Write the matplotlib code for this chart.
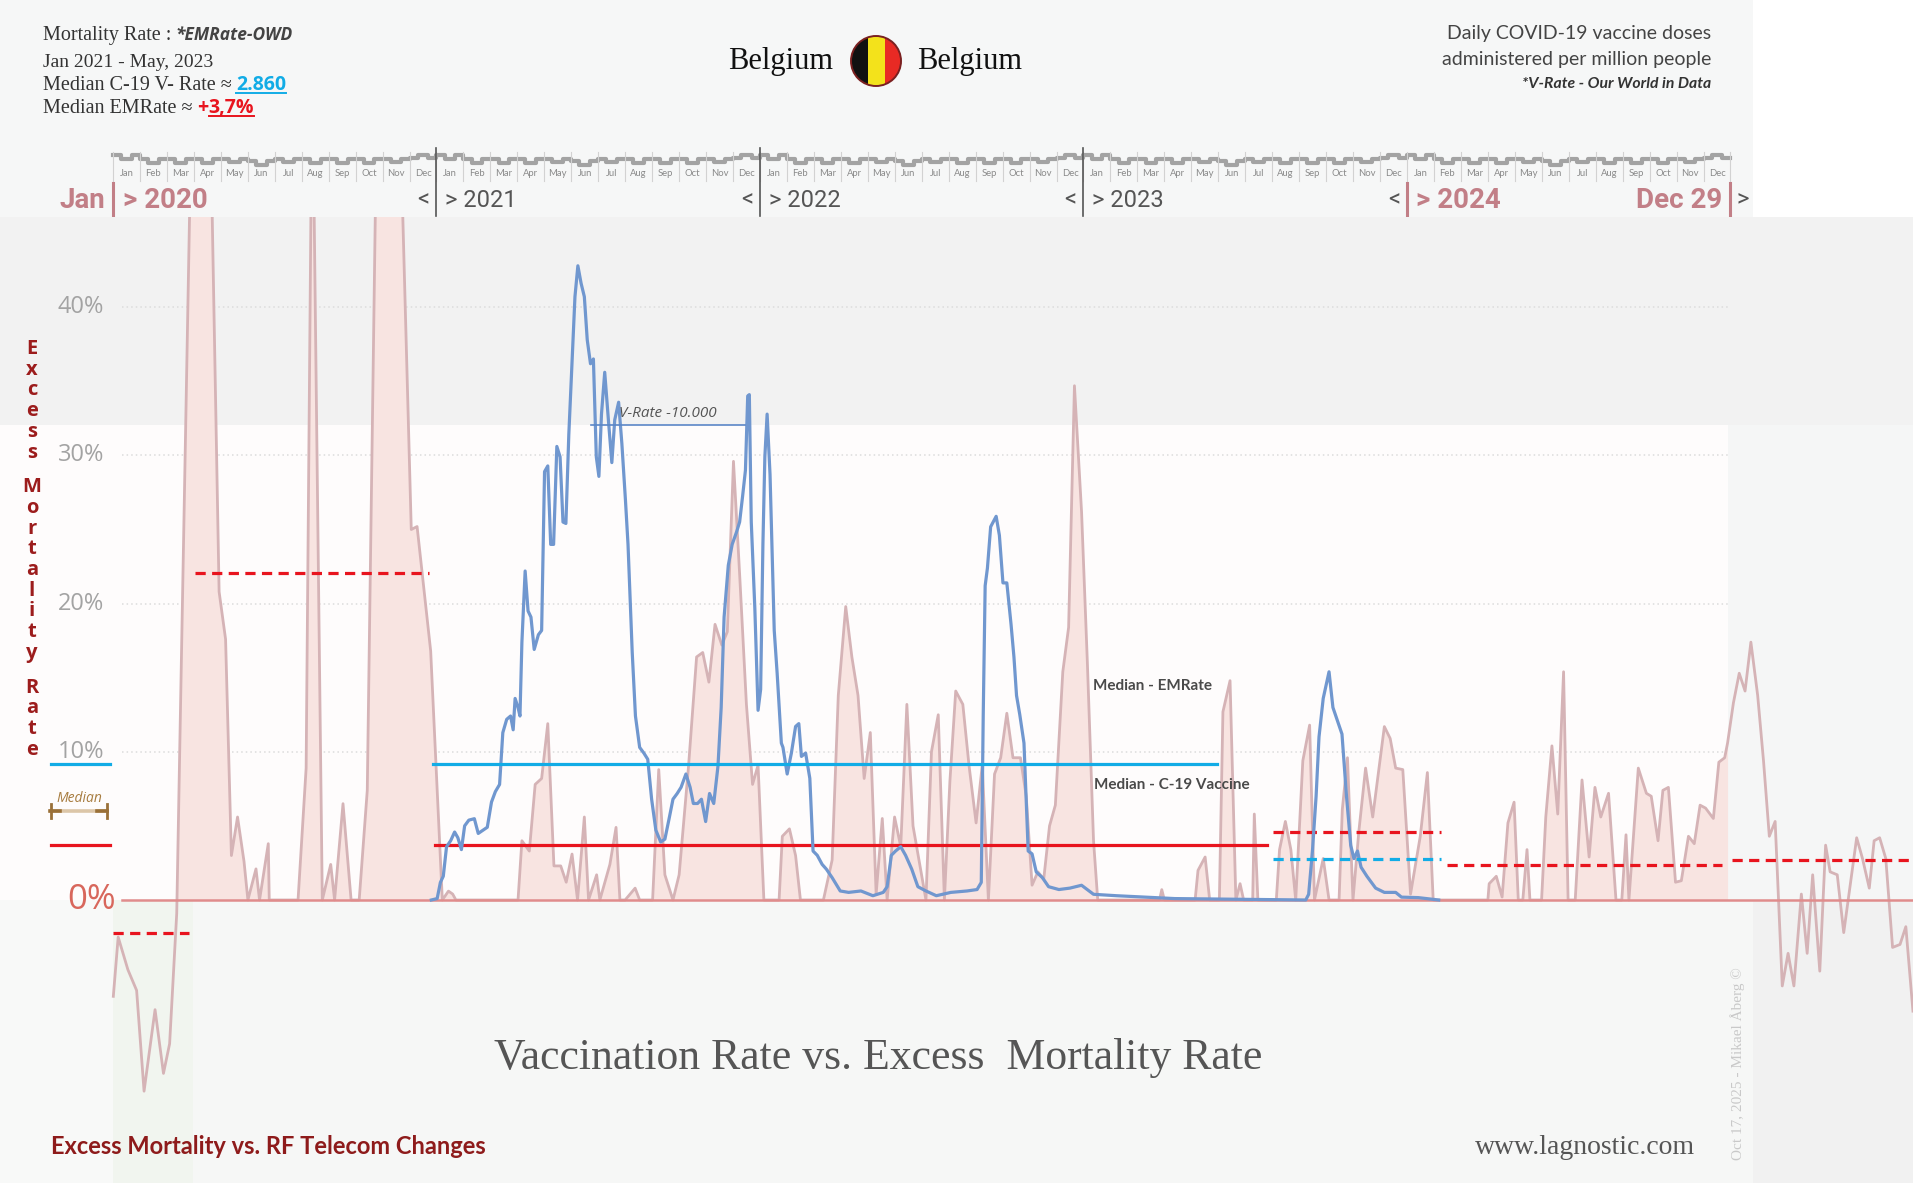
import numpy as np
import matplotlib
matplotlib.use("Agg")
import matplotlib.pyplot as plt
from matplotlib.patches import Rectangle, Circle
from matplotlib import transforms

# ---------------- data ----------------
# excess mortality rate, % vs expected (x = decimal year)
em_year = [2020.001, 2020.016, 2020.046, 2020.073, 2020.096, 2020.130, 2020.156, 2020.175,
           2020.197, 2020.255, 2020.285, 2020.328, 2020.348, 2020.366, 2020.385, 2020.405,
           2020.417, 2020.442, 2020.453, 2020.480, 2020.483, 2020.572, 2020.597, 2020.616,
           2020.647, 2020.673, 2020.685, 2020.711, 2020.736, 2020.761, 2020.786, 2020.826,
           2020.860, 2020.922, 2020.940, 2020.982, 2021.018, 2021.037, 2021.050, 2021.060,
           2021.252, 2021.264, 2021.287, 2021.305, 2021.325, 2021.344, 2021.363, 2021.384,
           2021.401, 2021.419, 2021.436, 2021.457, 2021.470, 2021.495, 2021.505, 2021.536,
           2021.555, 2021.567, 2021.583, 2021.614, 2021.628, 2021.668, 2021.687, 2021.706,
           2021.731, 2021.750, 2021.779, 2021.804, 2021.823, 2021.842, 2021.861, 2021.882,
           2021.899, 2021.918, 2021.937, 2021.958, 2021.977, 2021.994, 2022.012, 2022.059,
           2022.069, 2022.091, 2022.110, 2022.125, 2022.196, 2022.223, 2022.242, 2022.265,
           2022.284, 2022.303, 2022.322, 2022.341, 2022.359, 2022.378, 2022.393, 2022.416,
           2022.435, 2022.454, 2022.473, 2022.513, 2022.530, 2022.551, 2022.570, 2022.587,
           2022.605, 2022.627, 2022.646, 2022.668, 2022.687, 2022.706, 2022.725, 2022.744,
           2022.763, 2022.782, 2022.805, 2022.823, 2022.841, 2022.859, 2022.877, 2022.895,
           2022.913, 2022.936, 2022.954, 2022.972, 2022.994, 2023.012, 2023.031, 2023.044,
           2023.235, 2023.242, 2023.250, 2023.345, 2023.354, 2023.376, 2023.390, 2023.420,
           2023.431, 2023.453, 2023.471, 2023.484, 2023.495, 2023.523, 2023.528, 2023.539,
           2023.596, 2023.606, 2023.624, 2023.641, 2023.656, 2023.678, 2023.699, 2023.714,
           2023.741, 2023.759, 2023.790, 2023.800, 2023.816, 2023.833, 2023.851, 2023.872,
           2023.894, 2023.930, 2023.948, 2023.965, 2023.987, 2024.011, 2024.041, 2024.063,
           2024.081, 2024.250, 2024.254, 2024.276, 2024.294, 2024.312, 2024.331, 2024.344,
           2024.358, 2024.371, 2024.380, 2024.416, 2024.429, 2024.448, 2024.466, 2024.484,
           2024.498, 2024.520, 2024.541, 2024.563, 2024.581, 2024.599, 2024.623, 2024.646,
           2024.664, 2024.677, 2024.686, 2024.715, 2024.740, 2024.755, 2024.776, 2024.791,
           2024.808, 2024.830, 2024.848, 2024.870, 2024.888, 2024.906, 2024.923, 2024.947,
           2024.964, 2024.982, 2024.991, 2025.009, 2025.027, 2025.045, 2025.063, 2025.084,
           2025.102, 2025.120, 2025.138, 2025.160, 2025.178, 2025.196, 2025.219, 2025.237,
           2025.254, 2025.276, 2025.294, 2025.308, 2025.330, 2025.350, 2025.390, 2025.408,
           2025.429, 2025.444, 2025.461, 2025.480, 2025.501, 2025.524, 2025.542, 2025.564]
em_rate = [-6.5, -2.5, -4.7, -6.1, -12.9, -7.4, -11.7, -9.7,
           -0.9, 68.0, 72.0, 20.8, 17.6, 3.0, 5.6, 2.6,
           0.0, 2.1, 0.0, 3.8, 0.0, 0.0, 8.9, 57.0,
           0.0, 2.4, 0.0, 6.5, 0.0, 0.0, 7.4, 70.0,
           75.0, 25.0, 25.2, 16.8, 0.0, 0.6, 0.4, 0.0,
           0.0, 4.0, 3.3, 7.8, 8.2, 11.9, 2.3, 2.3,
           1.2, 3.1, 0.0, 5.6, 0.0, 1.7, 0.0, 2.4,
           4.9, 0.0, 0.0, 0.8, 0.0, 0.0, 8.8, 1.7,
           0.0, 1.7, 9.0, 16.4, 16.7, 14.7, 18.6, 17.2,
           18.1, 29.6, 22.0, 13.2, 7.8, 9.1, 0.0, 0.0,
           4.3, 4.8, 3.0, 0.0, 0.0, 2.7, 13.8, 19.8,
           16.4, 13.8, 8.2, 11.3, 0.4, 5.5, 0.0, 5.6,
           3.6, 13.2, 5.0, 0.0, 10.0, 12.5, 0.0, 8.0,
           14.1, 13.2, 9.1, 5.2, 9.1, 0.0, 8.5, 9.6,
           12.6, 9.6, 9.6, 7.0, 1.0, 1.9, 1.4, 5.0,
           6.4, 15.4, 18.4, 34.7, 26.2, 16.0, 4.0, 0.0,
           0.0, 0.7, 0.0, 0.0, 2.0, 2.9, 0.0, 0.0,
           12.7, 14.8, 0.0, 1.1, 0.0, 0.0, 5.8, 0.0,
           0.0, 3.4, 5.3, 3.4, 0.0, 9.4, 11.8, 0.0,
           2.8, 0.0, 0.0, 6.1, 9.6, 0.0, 4.6, 8.9,
           5.6, 11.7, 10.9, 8.9, 8.8, 0.4, 4.3, 8.6,
           0.0, 0.0, 1.1, 1.6, 0.2, 5.2, 6.6, 0.0,
           0.0, 3.4, 0.0, 0.0, 5.6, 10.4, 5.8, 15.4,
           0.0, 0.0, 8.1, 2.9, 7.6, 5.6, 7.2, 0.0,
           0.0, 4.4, 0.0, 8.9, 7.2, 7.0, 4.0, 7.4,
           7.6, 1.2, 1.3, 4.3, 3.8, 6.4, 6.2, 5.5,
           9.3, 9.6, 10.6, 13.3, 15.3, 14.1, 17.4, 13.8,
           9.4, 4.3, 5.3, -5.8, -3.6, -5.8, 0.4, -3.6,
           1.7, -4.8, 3.7, 1.9, 1.7, -2.2, 4.2, 2.8,
           0.8, 4.0, 4.2, 2.8, -3.2, -3.0, -1.8, -7.5]

# daily COVID-19 vaccine doses per million people (OWD)
vax_year = [2020.984, 2021.002, 2021.012, 2021.021, 2021.031, 2021.044, 2021.056, 2021.066,
            2021.077, 2021.087, 2021.100, 2021.117, 2021.129, 2021.144, 2021.157, 2021.170,
            2021.182, 2021.195, 2021.205, 2021.217, 2021.229, 2021.237, 2021.243, 2021.252,
            2021.258, 2021.264, 2021.274, 2021.283, 2021.292, 2021.302, 2021.315, 2021.325,
            2021.334, 2021.344, 2021.353, 2021.362, 2021.372, 2021.382, 2021.391, 2021.400,
            2021.409, 2021.418, 2021.428, 2021.437, 2021.447, 2021.457, 2021.466, 2021.476,
            2021.485, 2021.494, 2021.502, 2021.510, 2021.520, 2021.532, 2021.542, 2021.551,
            2021.563, 2021.573, 2021.584, 2021.592, 2021.605, 2021.615, 2021.628, 2021.641,
            2021.653, 2021.665, 2021.678, 2021.693, 2021.706, 2021.719, 2021.731, 2021.744,
            2021.756, 2021.771, 2021.784, 2021.794, 2021.807, 2021.819, 2021.832, 2021.844,
            2021.857, 2021.870, 2021.880, 2021.889, 2021.902, 2021.914, 2021.927, 2021.937,
            2021.946, 2021.955, 2021.962, 2021.967, 2021.973, 2021.984, 2021.994, 2022.002,
            2022.009, 2022.015, 2022.022, 2022.031, 2022.044, 2022.053, 2022.066, 2022.071,
            2022.084, 2022.097, 2022.110, 2022.120, 2022.128, 2022.141, 2022.154, 2022.164,
            2022.177, 2022.192, 2022.205, 2022.223, 2022.248, 2022.274, 2022.312, 2022.349,
            2022.381, 2022.393, 2022.406, 2022.419, 2022.435, 2022.450, 2022.469, 2022.488,
            2022.513, 2022.545, 2022.590, 2022.640, 2022.671, 2022.684, 2022.690, 2022.696,
            2022.703, 2022.713, 2022.730, 2022.740, 2022.751, 2022.763, 2022.776, 2022.785,
            2022.793, 2022.803, 2022.816, 2022.829, 2022.841, 2022.854, 2022.873, 2022.892,
            2022.924, 2022.958, 2022.994, 2023.031, 2023.102, 2023.282, 2023.687, 2023.696,
            2023.708, 2023.719, 2023.728, 2023.741, 2023.759, 2023.771, 2023.785, 2023.799,
            2023.813, 2023.826, 2023.836, 2023.847, 2023.858, 2023.876, 2023.903, 2023.930,
            2023.965, 2023.983, 2024.035, 2024.098]
vax_doses = [0, 30, 370, 500, 1120, 1250, 1430, 1310,
             1060, 1560, 1680, 1710, 1400, 1470, 1530, 2060,
             2280, 2430, 3520, 3800, 3870, 3580, 4240, 4050,
             3870, 5420, 6920, 6080, 5950, 5270, 5580, 5670,
             9010, 9130, 7480, 7480, 9540, 9320, 7950, 7920,
             9790, 11160, 12690, 13340, 12970, 12690, 11780, 11280,
             11380, 9320, 8910, 10220, 11100, 10040, 9200, 10100,
             10470, 9600, 8420, 7480, 5210, 3870, 3210, 3090,
             2960, 2120, 1470, 1220, 1280, 1710, 2120, 2240,
             2370, 2650, 2370, 2030, 2030, 2120, 1650, 2240,
             2030, 2810, 4050, 5950, 7040, 7480, 7730, 7950,
             8480, 9040, 10600, 10630, 7950, 6140, 3990, 4430,
             7480, 9320, 10220, 8950, 5670, 4770, 3300, 3210,
             2650, 3090, 3650, 3710, 3020, 3090, 2560, 1030,
             940, 750, 650, 470, 190, 160, 190, 90,
             160, 280, 940, 1030, 1120, 940, 650, 280,
             190, 90, 160, 190, 220, 370, 3870, 6610,
             6980, 7850, 8070, 7670, 6670, 6670, 5800, 5110,
             4300, 3900, 3300, 1030, 970, 590, 470, 280,
             220, 250, 310, 120, 90, 30, 0, 120,
             1060, 2180, 3430, 4240, 4800, 4050, 3770, 3490,
             2180, 1150, 870, 1030, 690, 500, 250, 160,
             160, 60, 50, 0]

# median levels per period
em_med_start = [2020.000, 2020.253, 2020.996, 2023.585, 2024.124, 2025.005]
em_med_end = [2020.234, 2020.977, 2023.566, 2024.105, 2024.974, 2025.564]
em_med_value = [-2.2, 22.06, 3.7, 4.58, 2.38, 2.68]
vax_med_start = [2020.989, 2023.585]
vax_med_end = [2023.412, 2024.105]
vax_med_value = [2860, 860]
vrate_ref = 10000
vrate_ref_span = [2021.479, 2021.955]

pct_ticks = [10, 20, 30, 40]
months = ["Jan", "Feb", "Mar", "Apr", "May", "Jun", "Jul", "Aug", "Sep", "Oct", "Nov", "Dec"]
strip_years = [2020, 2021, 2022, 2023, 2024]
# month strip outline (edge, middle) in strip pixels
strip_profile = [(155, 159), (159, 163), (159, 163), (159, 163), (159, 162), (161, 165),
                 (159, 162), (159, 163), (159, 163), (159, 163), (159, 162), (158, 155)]

# ---------------- layout ----------------
W, H = 1913, 1183
PXY = 323.5                       # pixels per year
X0 = 2020 - 113 / PXY
X1 = X0 + W / PXY
PXP = 14.82                       # pixels per percent
Y_TOP = (900 - 217) / PXP
Y_BOT = (900 - H) / PXP
VAX_PER_PCT = 10000 / 32.08       # 10.000 doses sit at 32.08 %

def yr(px):
    return X0 + px / PXY

SERIF = ["Liberation Serif", "DejaVu Serif"]
SANS = ["Lato", "DejaVu Sans"]
OPEN = ["Open Sans", "DejaVu Sans"]
ROBO = ["Roboto", "DejaVu Sans"]

RED = "#e8141e"
CYAN = "#12ace6"
BLUE = "#7097cf"
ROSE = "#c27f87"
PINK_LINE = "#d5b3b6"
PINK_FILL = "#f8e4e1"

fig = plt.figure(figsize=(W / 100, H / 100), dpi=100)
fig.patch.set_facecolor("#f6f7f7")
fig.add_artist(Rectangle((1753 / W, 1 - 217 / H), 1 - 1753 / W, 217 / H,
                         transform=fig.transFigure, fc="white", ec="none", zorder=0))

# ---- main axes ----
ax = fig.add_axes([0, 0, 1, (H - 217) / H])
ax.set_xlim(X0, X1)
ax.set_ylim(Y_BOT, Y_TOP)
ax.axis("off")

bg = [((X0, 32.08), X1 - X0, Y_TOP - 32.08, "#f2f2f2"),
      ((X0, 0), yr(1728) - X0, 32.08, "#fefcfc"),
      ((yr(1728), 0), X1 - yr(1728), 32.08, "#f5f6f6"),
      ((X0, Y_BOT), 2020 - X0, -Y_BOT, "#f8f9f8"),
      ((2020, Y_BOT), yr(193) - 2020, -Y_BOT, "#f1f5ef"),
      ((yr(193), Y_BOT), yr(1753) - yr(193), -Y_BOT, "#f6f7f6"),
      ((yr(1753), Y_BOT), X1 - yr(1753), -Y_BOT, "#f1f1f1")]
for xy, w, h, c in bg:
    ax.add_patch(Rectangle(xy, w, h, fc=c, ec="none", zorder=0))

ax.hlines(pct_ticks, yr(122), yr(1728), colors="#dcdcdc", lw=1.1,
          linestyles=(0, (1, 2)), zorder=1)
for v in pct_ticks:
    ax.text(yr(104), v, f"{v}%", ha="right", va="center", fontsize=17,
            color="#a3a3a3", family=OPEN, zorder=6)
ax.text(yr(116), 0, "0%", ha="right", va="center", fontsize=25,
        color="#d8675c", family=OPEN, zorder=6)

em_x = np.array(em_year)
em_y = np.array(em_rate)
ax.fill_between(em_x, 0, np.clip(em_y, 0, None),
                where=(em_x >= 2020.19) & (em_x <= 2024.992),
                color=PINK_FILL, lw=0, zorder=2)
ax.plot(em_x, em_y, color=PINK_LINE, lw=2.0, zorder=3, solid_joinstyle="round")
ax.plot([yr(122), X1], [0, 0], color="#e08c8c", lw=1.8, zorder=4)

for i, (s, e, v) in enumerate(zip(em_med_start, em_med_end, em_med_value)):
    ls = "-" if i == 2 else (0, (3.2, 2.0))
    ax.plot([s, e], [v, v], color=RED, lw=2.3, ls=ls, zorder=5)

# left legend
bl = transforms.blended_transform_factory(ax.transAxes, ax.transData)
ax.plot([51 / W, 110 / W], [vax_med_value[0] / VAX_PER_PCT] * 2, color=CYAN, lw=2.3,
        transform=bl, zorder=5)
ax.plot([51 / W, 110 / W], [em_med_value[2]] * 2, color=RED, lw=2.3, transform=bl, zorder=5)
ax.plot([51 / W, 107 / W], [6.0, 6.0], color="#dcc6a8", lw=2.6, transform=bl, zorder=5)
for a, b in [(50, 60), (97, 107)]:
    ax.plot([a / W, b / W], [6.0, 6.0], color="#9a7038", lw=2.6, transform=bl, zorder=6)
for a in [50.5, 107]:
    ax.plot([a / W, a / W], [5.55, 6.45], color="#9a7038", lw=2.0, transform=bl, zorder=6)
ax.text(79 / W, 6.85, "Median", transform=bl, ha="center", va="center", fontsize=10,
        style="italic", color="#a77c3f", family=OPEN)

ax.text(yr(1093), 14.47, "Median - EMRate", ha="left", va="center", fontsize=11,
        weight="bold", color="#4a4a4a", family=SANS, zorder=6)
ax.text(yr(1094), 7.76, "Median - C-19 Vaccine", ha="left", va="center", fontsize=11,
        weight="bold", color="#4a4a4a", family=SANS, zorder=6)

# vaccine series on its own scale
ax2 = ax.twinx()
ax2.set_ylim(Y_BOT * VAX_PER_PCT, Y_TOP * VAX_PER_PCT)
ax2.set_xlim(X0, X1)
ax2.axis("off")
ax2.plot(vax_year, vax_doses, color=BLUE, lw=2.3, zorder=3, solid_joinstyle="round")
for i, (s, e, v) in enumerate(zip(vax_med_start, vax_med_end, vax_med_value)):
    ls = "-" if i == 0 else (0, (3.2, 2.0))
    ax2.plot([s, e], [v, v], color=CYAN, lw=2.3, ls=ls, zorder=4)
ax2.plot(vrate_ref_span, [vrate_ref, vrate_ref], color="#5b87c7", lw=1.2, zorder=4)
ax2.text(yr(619), vrate_ref + 0.75 * VAX_PER_PCT, "V-Rate -10.000", ha="left", va="center",
         fontsize=11, style="italic", color="#555555", family=OPEN)

# ---- month strip ----
tl = fig.add_axes([0, 1 - 217 / H, 1, 217 / H])
tl.set_xlim(X0, X1)
tl.set_ylim(217, 0)
tl.axis("off")
sx, sy = [], []
for y in strip_years:
    for m in range(12):
        a = y + m / 12
        edge, mid = strip_profile[m]
        for f, lv in [(0, edge), (0.3, mid), (0.7, edge)]:
            sx.append(a + f / 12)
            sy.append(lv)
sx.append(2025)
sy.append(sy[-1])
tl.step(sx, sy, where="post", color="#a3a3a3", lw=3.0)
for y in strip_years:
    for m in range(12):
        a = y + m / 12
        tl.plot([a, a], [152, 181], color="#d2d2d2", lw=0.8)
        tl.text(a + 1 / 24, 173, months[m], ha="center", va="center", fontsize=6.8,
                color="#8a8a8a", family=SANS)
tl.plot([2025, 2025], [152, 181], color="#d2d2d2", lw=0.8)
for y in [2021, 2022, 2023]:
    tl.plot([y, y], [148, 216], color="#555555", lw=1.2)
    tl.text(y - 7 / PXY, 200, "<", ha="right", va="center", fontsize=17, color="#555555",
            family=ROBO)
    tl.text(y + 9 / PXY, 200, "> " + str(y), ha="left", va="center", fontsize=17,
            color="#555555", family=ROBO)
for y in [2020, 2024, 2025]:
    tl.plot([y, y], [183, 216], color=ROSE, lw=2.2)
tl.text(2020 - 8 / PXY, 200, "Jan", ha="right", va="center", fontsize=20, weight="bold",
        color=ROSE, family=ROBO)
tl.text(2020 + 10 / PXY, 200, "> 2020", ha="left", va="center", fontsize=20, weight="bold",
        color=ROSE, family=ROBO)
tl.text(2024 - 7 / PXY, 200, "<", ha="right", va="center", fontsize=17, color="#555555",
        family=ROBO)
tl.text(2024 + 9 / PXY, 200, "> 2024", ha="left", va="center", fontsize=20, weight="bold",
        color=ROSE, family=ROBO)
tl.text(2025 - 8 / PXY, 200, "Dec 29", ha="right", va="center", fontsize=20, weight="bold",
        color=ROSE, family=ROBO)
tl.text(2025 + 6 / PXY, 200, ">", ha="left", va="center", fontsize=17, color="#555555",
        family=ROBO)

# ---- overlay text in pixel coords ----
ov = fig.add_axes([0, 0, 1, 1], zorder=5)
ov.set_xlim(0, W)
ov.set_ylim(H, 0)
ov.axis("off")


def after(prev, s, gap=3, **kw):
    # place a text right after another one
    return ov.annotate(s, xy=(1, 0.5), xycoords=prev, xytext=(gap, 0),
                       textcoords="offset points", ha="left", va="center", **kw)


t0 = ov.text(43, 35, "Mortality Rate :", ha="left", va="center", fontsize=14.5,
             color="#333333", family=SERIF)
after(t0, "*EMRate-OWD", gap=3, fontsize=12.5, color="#444444", weight="bold",
      style="italic", family=OPEN)
ov.text(43, 62, "Jan 2021 - May, 2023", ha="left", va="center", fontsize=14,
        color="#333333", family=SERIF)
t1 = ov.text(43, 85, "Median C-19 V- Rate \u2248", ha="left", va="center", fontsize=14.5,
             color="#333333", family=SERIF)
t_v = after(t1, "2.860", gap=3, fontsize=14, color=CYAN, weight="bold", family=OPEN)
t2 = ov.text(43, 108, "Median EMRate \u2248", ha="left", va="center", fontsize=14.5,
             color="#333333", family=SERIF)
tp = after(t2, "+", gap=3, fontsize=14, color=RED, weight="bold", family=OPEN)
t_e = after(tp, "3,7%", gap=0.5, fontsize=14, color=RED, weight="bold", family=OPEN)

ov.text(833, 61, "Belgium", ha="right", va="center", fontsize=22, color="#111111",
        family=SERIF)
ov.text(917, 61, "Belgium", ha="left", va="center", fontsize=22, color="#111111",
        family=SERIF)
flag = Circle((876, 61), 25, transform=ov.transData)
for x0, c in [(851, "#111111"), (868, "#f3e21b"), (884.5, "#e82a24")]:
    r = Rectangle((x0, 36), 17, 50, fc=c, ec="none", zorder=6)
    ov.add_patch(r)
    r.set_clip_path(flag)
ov.add_patch(Circle((876, 61), 25, fc="none", ec="#7a2020", lw=1.4, zorder=7))

ov.text(1711, 33, "Daily COVID-19 vaccine doses", ha="right", va="center", fontsize=14,
        color="#444444", family=SANS)
ov.text(1711, 59, "administered per million people", ha="right", va="center", fontsize=14,
        color="#444444", family=SANS)
ov.text(1711, 84, "*V-Rate - Our World in Data", ha="right", va="center", fontsize=11.3,
        color="#333333", weight="bold", style="italic", family=SANS)

# vertical axis title, one letter per line
ly = 349
for word in ["Excess", "Mortality", "Rate"]:
    for ch in word:
        ov.text(32, ly, ch, ha="center", va="center", fontsize=14.5, weight="bold",
                color="#9c1c1c", family=OPEN)
        ly += 20.7
    ly += 14

ov.text(878, 1058, "Vaccination Rate vs. Excess  Mortality Rate", ha="center", va="center",
        fontsize=31.5, color="#555555", family=SERIF)
ov.text(51, 1147, "Excess Mortality vs. RF Telecom Changes", ha="left", va="center",
        fontsize=17, weight="bold", color="#8e1b1b", family=SANS)
ov.text(1695, 1147, "www.lagnostic.com", ha="right", va="center", fontsize=20,
        color="#555555", family=SERIF)
ov.text(1738, 1064, "Oct 17, 2025 - Mikael \u00c5berg \u00a9", ha="center", va="center",
        rotation=90, fontsize=11, color="#c9c9c9", family=SERIF)

# underline the two highlighted numbers
fig.canvas.draw()
inv = ov.transData.inverted()
for t, c in [(t_v, CYAN), (t_e, RED)]:
    bb = t.get_window_extent()
    (xa, ya), (xb, yb) = inv.transform([[bb.x0, bb.y0], [bb.x1, bb.y1]])
    ov.plot([xa, xb], [ya - 2, ya - 2], color=c, lw=1.4)

fig.savefig("out.png", dpi=100, facecolor=fig.get_facecolor())
